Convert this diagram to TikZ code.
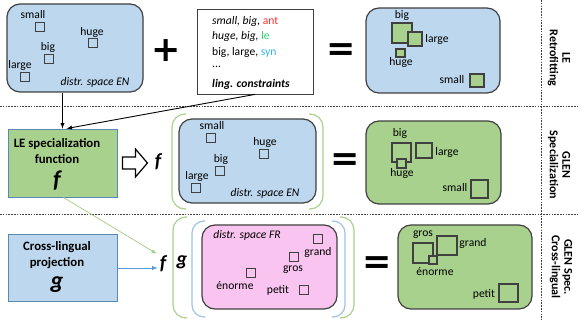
\documentclass[tikz,border=0pt]{standalone}
\usepackage{fontspec}
\setmainfont{Carlito}
\newfontfamily\djv{DejaVu Sans}
\usetikzlibrary{calc}
\definecolor{blueF}{HTML}{BDD7EE}
\definecolor{greenF}{HTML}{A9D18E}
\definecolor{pinkF}{HTML}{F9C4F0}
\definecolor{linec}{HTML}{404040}
\definecolor{leftb}{HTML}{5B87B5}
\definecolor{brG}{HTML}{A9D18E}
\definecolor{brB}{HTML}{9DC3E6}
\definecolor{arrB}{HTML}{5B9BD5}
\definecolor{antc}{HTML}{FF3030}
\definecolor{lec}{HTML}{2ECC71}
\definecolor{sync}{HTML}{30B4E8}
\begin{document}
\begin{tikzpicture}[x=1pt,y=-1pt,
  panel/.style={draw=linec,line width=1.2pt,rounded corners=13pt,inner sep=0pt},
  leftbox/.style={draw=leftb,line width=0.9pt,inner sep=0pt,align=center,font=\fontsize{12.8}{15.5}\selectfont\bfseries},
  wsq/.style={draw=linec,line width=1.1pt,minimum size=9pt,inner sep=0pt},
  gsq/.style={draw=linec,line width=1.1pt,fill=greenF},
  lbl/.style={inner sep=0pt,font=\fontsize{11.6}{12}\selectfont},
  ilbl/.style={inner sep=0pt,font=\fontsize{11.6}{12}\selectfont\itshape},
  sidelbl/.style={inner sep=0pt,rotate=-90,align=center,font=\fontsize{12}{12.5}\selectfont\bfseries},
  bigop/.style={inner sep=0pt,font=\djv\bfseries\fontsize{35}{35}\selectfont},
  fg/.style={inner sep=0pt,font=\fontsize{20}{20}\selectfont\bfseries\itshape},
  sep/.style={line width=0.8pt,dash pattern=on 1.6pt off 1.2pt,draw=linec},
  bracketG/.style={draw=brG,line width=1.2pt,rounded corners=13pt},
  bracketB/.style={draw=brB,line width=1.2pt,rounded corners=12pt},
  darr/.style={->,>=latex,line width=0.9pt,draw=black}
]
\useasboundingbox (0,0) rectangle (579,320);

% separators
\draw[sep] (0,106) -- (579,106);
\draw[sep] (0,214) -- (579,214);
\draw[sep] (541,0) -- (541,320);

% side labels
\node[sidelbl] (s1) at (559,58) {LE\\Retrofitting};
\node[sidelbl] (s2) at (559,165) {GLEN\\Specialization};
\node[sidelbl] (s3) at (561,267) {GLEN Spec.\\Cross-lingual};

% ---------- Row 1 ----------
\node[panel,fill=blueF,minimum width=136pt,minimum height=88pt] (b1) at (75,48) {};
\node[lbl] (b1small) at (33,15) {small};
\node[wsq] (b1smallq) at (40,27) {};
\node[lbl] (b1huge) at (92,32) {huge};
\node[wsq] (b1hugeq) at (93,43) {};
\node[lbl] (b1big) at (48,47) {big};
\node[wsq] (b1bigq) at (49,59) {};
\node[lbl] (b1large) at (20,65) {large};
\node[wsq] (b1largeq) at (25,77) {};
\node[ilbl] (b1name) at (95,82) {distr. space EN};

\node[bigop] (plus) at (166,51) {+};

\node[draw=linec,line width=0.8pt,minimum width=116pt,minimum height=85pt,inner sep=0pt] (cons) at (255,51.5) {};
\node[lbl,anchor=west] (c1) at (212,21) {\itshape small, big, \upshape\color{antc}ant};
\node[lbl,anchor=west] (c2) at (212,36.5) {\itshape huge, big, \upshape\color{lec}le};
\node[lbl,anchor=west] (c3) at (212,52.5) {big, large, \color{sync}syn};
\node[lbl,anchor=west] (c4) at (212,67) {...};
\node[lbl,anchor=west,font=\fontsize{11.6}{12}\selectfont\bfseries\itshape] (c5) at (212,84.5) {ling. constraints};

\node[bigop] (eq1) at (341,52) {=};

\node[panel,fill=blueF,minimum width=134pt,minimum height=85pt] (r1) at (433,50.5) {};
\draw[gsq] (392,23) rectangle (412,43);
\draw[gsq] (408,32) rectangle (422,46);
\draw[gsq] (396,49) rectangle (405,57);
\draw[gsq] (470,74) rectangle (484,87);
\node[lbl] (r1big) at (402,15) {big};
\node[lbl] (r1large) at (437,39) {large};
\node[lbl] (r1huge) at (401,62) {huge};
\node[lbl] (r1small) at (452,80) {small};

% ---------- Row 2 ----------
\node[leftbox,fill=greenF,minimum width=109pt,minimum height=68pt] (lespec) at (62.5,163) {};
\node[leftbox,draw=none] (lestext) at (57,151) {LE specialization\\function};
\node[fg,font=\fontsize{24}{24}\selectfont\bfseries\itshape] (lef) at (57,181) {f};

\draw[darr] (b1.south -| lespec.north) -- (lespec.north);
\draw[darr] (cons.south) -- ($(lespec.north)+(4,0)$);

\draw[line width=1.2pt,draw=black,fill=white,line join=miter]
  ($(lespec.east)+(5,-6)$) -- ++(13,0) -- ++(0,-8) -- ++(12,14) -- ++(-12,14) -- ++(0,-8) -- ++(-13,0) -- cycle;
\node[fg] (f2) at (158,162) {f};

\draw[bracketG] (186,114) -- (172,114) -- (172,209) -- (186,209);
\draw[bracketG] (309,114) -- (323,114) -- (323,209) -- (309,209);

\node[panel,fill=blueF,minimum width=137pt,minimum height=84pt] (b2) at (247.5,161) {};
\node[lbl] (b2small) at (212,126) {small};
\node[wsq] (b2smallq) at (211,138) {};
\node[lbl] (b2huge) at (265,142) {huge};
\node[wsq] (b2hugeq) at (264,154) {};
\node[lbl] (b2big) at (221,159) {big};
\node[wsq] (b2bigq) at (220,171) {};
\node[lbl] (b2large) at (197,176) {large};
\node[wsq] (b2largeq) at (196,188) {};
\node[ilbl] (b2name) at (265,193) {distr. space EN};

\node[bigop] (eq2) at (345,162) {=};

\node[panel,fill=greenF,minimum width=135pt,minimum height=83pt] (r2) at (433.5,162.5) {};
\draw[gsq] (392,143) rectangle (411,162);
\draw[gsq] (397,159) rectangle (406,168);
\draw[gsq] (416,143) rectangle (432,158);
\draw[gsq] (471,180) rectangle (488,198);
\node[lbl] (r2big) at (400,133) {big};
\node[lbl] (r2huge) at (402,173) {huge};
\node[lbl] (r2large) at (447,152) {large};
\node[lbl] (r2small) at (455,188) {small};

% ---------- Row 3 ----------
\node[leftbox,fill=blueF,minimum width=109pt,minimum height=67pt] (cross) at (62.5,267.5) {};
\node[leftbox,draw=none] (crosstext) at (57,255) {Cross-lingual\\projection};
\node[fg,font=\fontsize{24}{24}\selectfont\bfseries\itshape] (crossg) at (57,285) {g};

\node[fg] (f3) at (163,264) {f};
\node[fg] (g3) at (182,262) {g};

\draw[->,>=latex,draw=brG,line width=0.8pt] ($(lespec.south)+(1,0)$) -- ($(f3.north west)+(-3,-2)$);
\draw[->,>=latex,draw=arrB,line width=0.9pt] (cross.east |- 0,268) -- ($(f3.west)+(-2,4)$);

\draw[bracketG] (187,217) -- (173,217) -- (173,318) -- (187,318);
\draw[bracketG] (340,217) -- (354,217) -- (354,318) -- (340,318);
\draw[bracketB] (205,221) -- (192,221) -- (192,317) -- (205,317);
\draw[bracketB] (332,221) -- (345,221) -- (345,317) -- (332,317);

\node[panel,fill=pinkF,minimum width=135pt,minimum height=84pt] (pk) at (269.5,267) {};
\node[ilbl] (pkname) at (247,235) {distr. space FR};
\node[wsq] (grandq) at (318,239) {};
\node[lbl] (grand) at (318,252) {grand};
\node[wsq] (grosq) at (294,257) {};
\node[lbl] (gros) at (293,270) {gros};
\node[wsq] (enormeq) at (251,273) {};
\node[lbl] (enorme) at (235,286) {énorme};
\node[wsq] (petitq) at (304,290) {};
\node[lbl] (petit) at (278,290) {petit};

\node[bigop] (eq3) at (377,265) {=};

\node[panel,fill=greenF,minimum width=134pt,minimum height=84pt] (r3) at (465,267) {};
\draw[gsq] (413,243) rectangle (433,263);
\draw[gsq] (429,256) rectangle (437,264);
\draw[gsq] (437,236) rectangle (457,255);
\draw[gsq] (499,284) rectangle (518,302);
\node[lbl] (r3gros) at (423,235) {gros};
\node[lbl] (r3grand) at (473,243) {grand};
\node[lbl] (r3enorme) at (435,272) {énorme};
\node[lbl] (r3petit) at (484,294) {petit};
\end{tikzpicture}
\end{document}
